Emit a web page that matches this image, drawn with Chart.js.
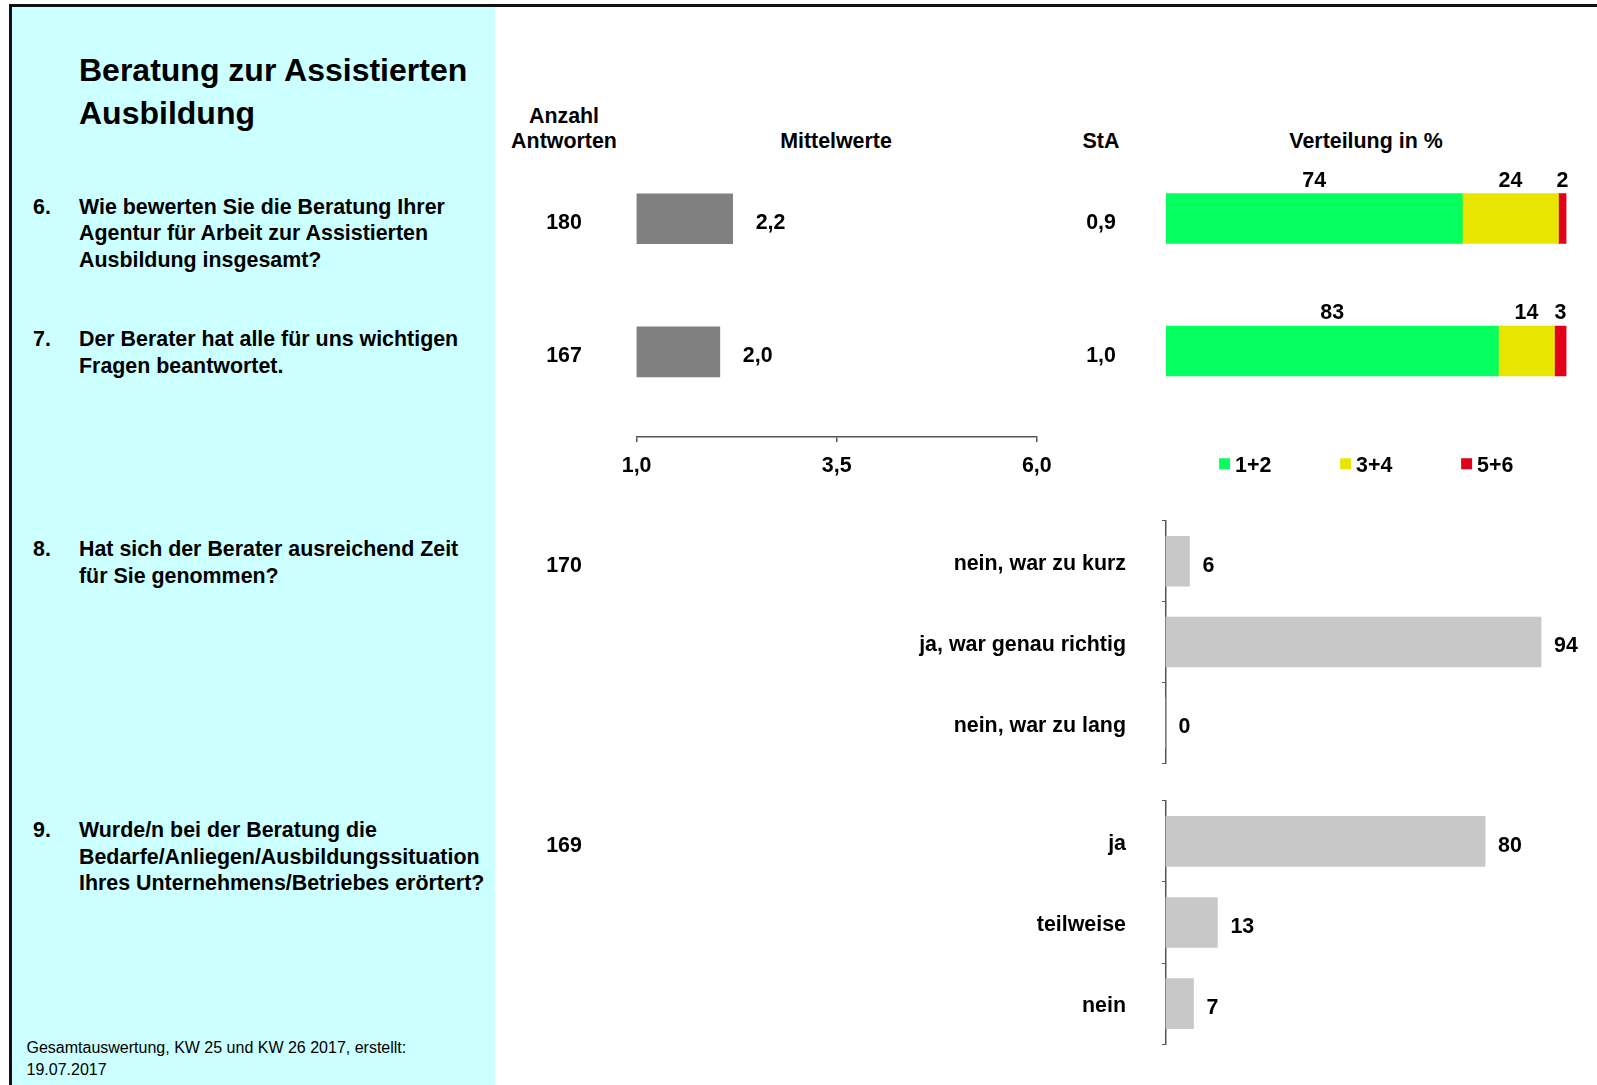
<!DOCTYPE html>
<html lang="de">
<head>
<meta charset="utf-8">
<title>Beratung zur Assistierten Ausbildung</title>
<script src="https://cdn.jsdelivr.net/npm/chart.js@4.4.1/dist/chart.umd.min.js"></script>
<style>
  html, body { margin:0; padding:0; background:#fff; }
  body { width:1597px; height:1085px; position:relative; overflow:hidden;
         font-family:"Liberation Sans", Arial, sans-serif; color:#000; }
  .abs { position:absolute; }
  #panel { left:12px; top:7px; width:483px; height:1078px; background:#CCFFFF; }
  #bTop { left:9px; top:4px; width:1588px; height:3px; background:#111; }
  #bLeft { left:9px; top:4px; width:3px; height:1081px; background:#111; }
  #title { left:79px; top:49px; font-size:32px; font-weight:bold; line-height:43px; white-space:nowrap; }
  .q { font-size:21.4px; font-weight:bold; line-height:26.5px; white-space:nowrap; }
  .qn { left:33px; }
  .qt { left:79px; }
  #footer { left:26.5px; top:1037px; font-size:16px; line-height:22px; white-space:nowrap; }
  .hdr { font-size:21.4px; font-weight:bold; line-height:25.5px; text-align:center; white-space:nowrap; transform:translateX(-50%); }
  canvas { position:absolute; }
</style>
</head>
<body>
<div id="panel" class="abs"></div>
<div id="bTop" class="abs"></div>
<div id="bLeft" class="abs"></div>

<div id="title" class="abs">Beratung zur Assistierten<br>Ausbildung</div>

<div class="abs q qn" style="top:193.7px">6.</div>
<div class="abs q qt" style="top:193.7px">Wie bewerten Sie die Beratung Ihrer<br>Agentur für Arbeit zur Assistierten<br>Ausbildung insgesamt?</div>
<div class="abs q qn" style="top:326px">7.</div>
<div class="abs q qt" style="top:326px">Der Berater hat alle für uns wichtigen<br>Fragen beantwortet.</div>
<div class="abs q qn" style="top:536px">8.</div>
<div class="abs q qt" style="top:536px">Hat sich der Berater ausreichend Zeit<br>für Sie genommen?</div>
<div class="abs q qn" style="top:817px">9.</div>
<div class="abs q qt" style="top:817px">Wurde/n bei der Beratung die<br>Bedarfe/Anliegen/Ausbildungssituation<br>Ihres Unternehmens/Betriebes erörtert?</div>

<div id="footer" class="abs">Gesamtauswertung, KW 25 und KW 26 2017, erstellt:<br>19.07.2017</div>

<div class="abs hdr" style="left:564px; top:103.5px">Anzahl<br>Antworten</div>
<div class="abs hdr" style="left:836px; top:129px">Mittelwerte</div>
<div class="abs hdr" style="left:1101px; top:129px">StA</div>
<div class="abs hdr" style="left:1366px; top:129px">Verteilung in %</div>

<canvas id="cMean" width="640" height="400" style="left:500px; top:100px"></canvas>
<canvas id="cDist" width="457" height="400" style="left:1140px; top:100px"></canvas>
<canvas id="cQ8" width="1097" height="340" style="left:500px; top:471.66px"></canvas>
<canvas id="cQ9" width="1097" height="341" style="left:500px; top:752.36px"></canvas>

<script>
// ---------- DATA ----------
const ratingQuestions = ['6', '7'];
const ratingCounts = [180, 167];
const meanValues = [2.2, 2.04];
const stdDevs = [0.9, 1.0];
const meanTicks = [1.0, 3.5, 6.0];

const distSeriesNames = ['1+2', '3+4', '5+6'];
const dist12 = [74, 83];
const dist34 = [24, 14];
const dist56 = [2, 3];

const q8Count = 170;
const q8Categories = ['nein, war zu kurz', 'ja, war genau richtig', 'nein, war zu lang'];
const q8Values = [6, 94, 0];

const q9Count = 169;
const q9Categories = ['ja', 'teilweise', 'nein'];
const q9Values = [80, 13, 7];

// ---------- STYLE ----------
const FONT = '"Liberation Sans", Arial, sans-serif';
const FS = 21.4;
Chart.defaults.font.family = FONT;
Chart.defaults.font.size = FS;
Chart.defaults.font.weight = 'bold';
Chart.defaults.color = '#000';
const boldFont = 'bold ' + FS + 'px ' + FONT;
const fmt1 = v => v.toFixed(1).replace('.', ',');
const distColors = ['#05FF5F', '#E8E600', '#E2001A'];
const axisColor = '#555';
const COL_COUNT_X = 64;   // Anzahl column, canvas-relative
const COL_STA_X = 601;    // StA column, canvas-relative
const TXT_DY = 4.5;       // optical shift of row texts

const noPlugins = { legend: { display: false }, tooltip: { enabled: false }, title: { display: false } };

// ---------- CHART A: Mittelwerte ----------
const meanTextPlugin = {
  id: 'meanText',
  afterDatasetsDraw(chart) {
    const ctx = chart.ctx;
    const meta = chart.getDatasetMeta(0);
    ctx.save();
    ctx.font = boldFont;
    ctx.fillStyle = '#000';
    ctx.textBaseline = 'middle';
    meta.data.forEach((bar, i) => {
      ctx.textAlign = 'left';
      ctx.fillText(fmt1(meanValues[i]), bar.x + 23, bar.y + TXT_DY);
      ctx.textAlign = 'center';
      ctx.fillText(String(ratingCounts[i]), COL_COUNT_X, bar.y + TXT_DY);
      ctx.fillText(fmt1(stdDevs[i]), COL_STA_X, bar.y + TXT_DY);
    });
    ctx.restore();
  }
};

new Chart(document.getElementById('cMean'), {
  type: 'bar',
  data: {
    datasets: [{
      label: 'Mittelwerte',
      data: meanValues.map((v, i) => ({ x: v, y: i })),
      backgroundColor: '#808080',
      barThickness: 50
    }]
  },
  options: {
    indexAxis: 'y',
    responsive: false,
    animation: false,
    layout: { padding: { left: 136.6, right: 103.2, top: 52.25, bottom: 9.5 } },
    plugins: noPlugins,
    scales: {
      x: {
        type: 'linear', min: 1, max: 6,
        afterBuildTicks: s => { s.ticks = meanTicks.map(v => ({ value: v })); },
        grid: { display: true, drawOnChartArea: false, drawTicks: true, tickLength: 5, color: axisColor, lineWidth: 1.5 },
        border: { display: true, color: axisColor, width: 1.5 },
        ticks: { padding: 11.4, autoSkip: false, maxRotation: 0, color: '#000',
                 font: { size: FS, weight: 'bold' }, callback: v => fmt1(v) }
      },
      y: { type: 'linear', reverse: true, offset: false, min: -0.5, max: 1.64, display: false }
    }
  },
  plugins: [meanTextPlugin]
});

// ---------- CHART B: Verteilung ----------
const distTextPlugin = {
  id: 'distText',
  afterDatasetsDraw(chart) {
    const ctx = chart.ctx;
    ctx.save();
    ctx.font = boldFont;
    ctx.fillStyle = '#000';
    ctx.textAlign = 'center';
    ctx.textBaseline = 'middle';
    chart.data.datasets.forEach((ds, k) => {
      chart.getDatasetMeta(k).data.forEach((bar, i) => {
        const cx = (bar.x + bar.base) / 2;
        ctx.fillText(String(ds.data[i]), cx, bar.y - bar.height / 2 - 12.5);
      });
    });
    // legend
    const ca = chart.chartArea;
    const step = 121, box = 11, gap = 5;
    const lastW = ctx.measureText(chart.data.datasets[chart.data.datasets.length - 1].label).width;
    const total = step * (chart.data.datasets.length - 1) + box + gap + lastW;
    let x = (ca.left + ca.right) / 2 - total / 2;
    const ly = ca.bottom + 47;
    ctx.textAlign = 'left';
    chart.data.datasets.forEach(ds => {
      ctx.fillStyle = ds.backgroundColor;
      ctx.fillRect(x, ly - box / 2 - 0.5, box, box);
      ctx.fillStyle = '#000';
      ctx.fillText(ds.label, x + box + gap, ly + 1.5);
      x += step;
    });
    ctx.restore();
  }
};

new Chart(document.getElementById('cDist'), {
  type: 'bar',
  data: {
    labels: ratingQuestions,
    datasets: [
      { label: distSeriesNames[0], data: dist12, backgroundColor: distColors[0], barThickness: 50 },
      { label: distSeriesNames[1], data: dist34, backgroundColor: distColors[1], barThickness: 50 },
      { label: distSeriesNames[2], data: dist56, backgroundColor: distColors[2], barThickness: 50 }
    ]
  },
  options: {
    indexAxis: 'y',
    responsive: false,
    animation: false,
    layout: { padding: { left: 26, right: 30.5, top: 52.25, bottom: 82.75 } },
    plugins: noPlugins,
    scales: {
      x: { stacked: true, min: 0, max: 100, display: false },
      y: { stacked: true, display: false }
    }
  },
  plugins: [distTextPlugin]
});

// ---------- CHARTS C/D: Q8, Q9 ----------
function makeValuePlugin(count) {
  return {
    id: 'valText',
    afterDatasetsDraw(chart) {
      const ctx = chart.ctx;
      const meta = chart.getDatasetMeta(0);
      ctx.save();
      ctx.font = boldFont;
      ctx.fillStyle = '#000';
      ctx.textBaseline = 'middle';
      ctx.textAlign = 'left';
      meta.data.forEach((bar, i) => {
        ctx.fillText(String(chart.data.datasets[0].data[i]), bar.x + 13, bar.y + TXT_DY);
      });
      ctx.textAlign = 'center';
      ctx.fillText(String(count), COL_COUNT_X, meta.data[0].y + TXT_DY);
      ctx.restore();
    }
  };
}

function makeHBar(id, cats, vals, count) {
  new Chart(document.getElementById(id), {
    type: 'bar',
    data: {
      labels: cats,
      datasets: [{ data: vals, backgroundColor: '#C8C8C8', barThickness: 50 }]
    },
    options: {
      indexAxis: 'y',
      responsive: false,
      animation: false,
      layout: { padding: { left: 0, right: 32, top: 0, bottom: 0 } },
      plugins: noPlugins,
      scales: {
        x: { min: 0, max: 100, display: false },
        y: {
          afterFit: s => { s.width = 665.5; },
          grid: { display: true, drawOnChartArea: false, drawTicks: true, tickLength: 3.5, color: axisColor, lineWidth: 1 },
          border: { display: true, color: axisColor, width: 1.5 },
          ticks: { padding: 36, labelOffset: 3, color: '#000', font: { size: FS, weight: 'bold' } }
        }
      }
    },
    plugins: [makeValuePlugin(count)]
  });
}

makeHBar('cQ8', q8Categories, q8Values, q8Count);
makeHBar('cQ9', q9Categories, q9Values, q9Count);
</script>
</body>
</html>
